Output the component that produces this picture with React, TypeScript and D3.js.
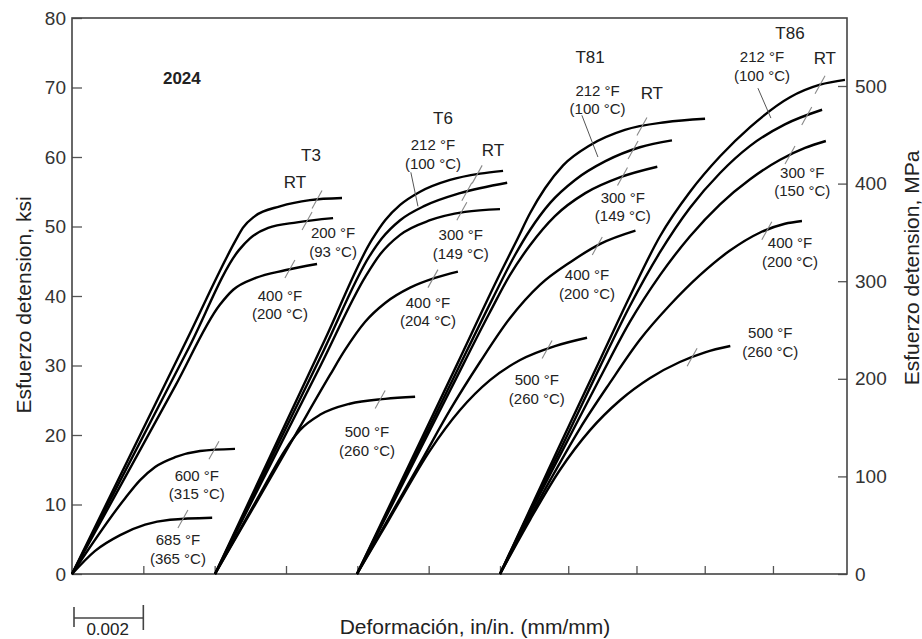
import React, { useEffect, useRef } from 'react';
import * as d3 from 'd3';

// strain is in units of 0.001 in/in, stress in ksi
const strainTicks = [0, 2, 4, 6, 8, 10, 12, 14, 16, 18, 20];
const ksiTicks = [0, 10, 20, 30, 40, 50, 60, 70, 80];
const mpaTicks = [0, 100, 200, 300, 400, 500];

// 2024-T3
const t3RT = [[0, 0], [3.22, 33.7], [4.60, 48.1], [4.79, 49.8], [5.13, 51.5], [5.83, 52.9], [6.67, 53.8], [7.57, 54.1]];
const t3F200 = [[0, 0], [3.28, 32.6], [4.68, 46.6], [4.99, 48.3], [5.50, 49.8], [6.31, 50.6], [7.32, 51.2]];
const t3F400 = [[0, 0], [2.90, 27.1], [4.14, 38.7], [4.52, 40.9], [5.15, 42.6], [5.97, 43.7], [6.87, 44.6]];
const t3F600 = [[0, 0], [1.49, 10.9], [1.91, 13.5], [2.33, 15.4], [2.89, 16.8], [3.59, 17.7], [4.57, 18.0]];
const t3F685 = [[0, 0], [0.64, 3.3], [1.35, 5.6], [2.05, 7.1], [2.75, 7.8], [3.93, 8.1]];

// 2024-T6
const t6RT = [[4.01, 0], [7.09, 33.7], [8.41, 48.1], [8.78, 50.9], [9.20, 53.1], [9.76, 55.0], [10.60, 56.7], [11.44, 57.6], [12.09, 58.0]];
const t6F212 = [[4.01, 0], [7.05, 32.1], [8.35, 45.8], [8.69, 48.3], [9.20, 50.9], [9.90, 53.0], [10.88, 54.8], [12.21, 56.3]];
const t6F300 = [[4.01, 0], [6.97, 30.0], [8.24, 42.9], [8.64, 46.0], [9.20, 48.8], [10.04, 50.9], [11.02, 52.1], [12.0, 52.5]];
const t6F400 = [[4.01, 0], [6.26, 20.0], [7.23, 28.6], [7.65, 32.2], [8.22, 36.3], [8.78, 39.0], [9.48, 41.2], [10.18, 42.6], [10.82, 43.5]];
const t6F500 = [[4.01, 0], [5.38, 12.5], [5.97, 17.8], [6.39, 20.7], [6.95, 22.9], [7.79, 24.5], [8.78, 25.2], [9.62, 25.5]];

// 2024-T81
const t81RT = [[7.99, 0], [10.80, 30.2], [12.0, 43.2], [12.50, 48.1], [12.88, 51.9], [13.32, 55.5], [13.85, 58.8], [14.64, 61.7], [15.66, 63.9], [16.84, 65.0], [18.01, 65.5]];
const t81F212 = [[7.99, 0], [10.66, 27.8], [11.80, 39.7], [12.44, 45.9], [12.88, 49.5], [13.47, 53.4], [14.20, 56.7], [15.09, 59.4], [16.10, 61.4], [17.04, 62.4]];
const t81F300 = [[7.99, 0], [10.60, 26.4], [11.72, 37.7], [12.29, 43.0], [12.88, 47.3], [13.61, 51.5], [14.50, 54.8], [15.53, 57.1], [16.61, 58.6]];
const t81F400 = [[7.99, 0], [9.82, 16.5], [10.60, 23.6], [11.44, 30.5], [12.29, 36.8], [13.17, 41.6], [14.07, 44.9], [14.94, 47.5], [15.97, 49.4]];
const t81F500 = [[7.99, 0], [8.84, 7.4], [9.20, 10.6], [10.04, 17.8], [10.88, 23.6], [11.72, 27.9], [12.59, 30.8], [13.61, 32.8], [14.55, 34.0]];

// 2024-T86
const t86RT = [[12.0, 0], [13.23, 13.0], [13.76, 18.6], [14.93, 30.8], [15.81, 40.0], [16.69, 48.6], [17.57, 55.0], [18.45, 60.1], [19.33, 64.3], [20.50, 68.6], [21.38, 70.4], [22.11, 71.1]];
const t86F212 = [[12.0, 0], [13.22, 12.5], [13.76, 17.8], [14.93, 29.8], [15.81, 38.6], [16.69, 46.3], [17.57, 52.7], [18.45, 57.7], [19.33, 61.6], [20.35, 64.7], [21.44, 66.8]];
const t86F300 = [[12.0, 0], [13.22, 12.0], [13.76, 17.1], [14.93, 28.2], [15.81, 36.3], [16.69, 43.0], [17.57, 48.6], [18.45, 53.2], [19.33, 56.8], [20.21, 59.6], [20.94, 61.3], [21.55, 62.3]];
const t86F400 = [[12.0, 0], [13.47, 13.5], [14.35, 21.0], [15.22, 27.5], [16.10, 33.7], [16.98, 38.7], [17.86, 43.0], [18.73, 46.5], [19.61, 49.1], [20.35, 50.4], [20.85, 50.8]];
const t86F500 = [[12.0, 0], [12.88, 7.8], [13.76, 15.0], [14.64, 20.7], [15.52, 25.0], [16.40, 28.2], [17.27, 30.5], [18.01, 31.9], [18.75, 32.8]];

// curve + the little break mark drawn across it
const curves = [
  { pts: t3RT, mark: [6.87, 53.9] },
  { pts: t3F200, mark: [6.59, 50.8] },
  { pts: t3F400, mark: [6.11, 43.9] },
  { pts: t3F600, mark: [3.98, 17.8] },
  { pts: t3F685, mark: [3.11, 7.9] },
  { pts: t6RT, mark: [11.36, 57.5] },
  { pts: t6F212, mark: [11.07, 55.0] },
  { pts: t6F300, mark: [10.93, 52.2] },
  { pts: t6F400, mark: [10.12, 42.5] },
  { pts: t6F500, mark: [8.64, 25.1] },
  { pts: t81RT, mark: [16.16, 64.4] },
  { pts: t81F212, mark: [15.90, 61.0] },
  { pts: t81F300, mark: [15.59, 57.2] },
  { pts: t81F400, mark: [14.85, 47.2] },
  { pts: t81F500, mark: [13.38, 32.3] },
  { pts: t86RT, mark: [21.38, 70.4] },
  { pts: t86F212, mark: [20.99, 65.9] },
  { pts: t86F300, mark: [20.50, 60.3] },
  { pts: t86F400, mark: [19.82, 49.4] },
  { pts: t86F500, mark: [17.63, 31.2] },
];

const temperLabels = [['T3', 6.70, 60.3], ['T6', 10.40, 65.6], ['T81', 14.64, 74.4], ['T86', 20.50, 77.8]];
const rtLabels = [[6.25, 56.4], [11.80, 61.0], [16.45, 69.2], [21.52, 74.2]];
const tempLabels = [
  ['200 °F', '(93 °C)', 7.32, 49.1],
  ['400 °F', '(200 °C)', 5.83, 40.1],
  ['600 °F', '(315 °C)', 3.50, 14.2],
  ['685 °F', '(365 °C)', 2.97, 4.9],
  ['212 °F', '(100 °C)', 10.12, 61.7],
  ['300 °F', '(149 °C)', 10.90, 48.8],
  ['400 °F', '(204 °C)', 9.98, 39.1],
  ['500 °F', '(260 °C)', 8.27, 20.4],
  ['212 °F', '(100 °C)', 14.86, 69.6],
  ['300 °F', '(149 °C)', 15.60, 54.2],
  ['400 °F', '(200 °C)', 14.55, 43.0],
  ['500 °F', '(260 °C)', 13.08, 27.9],
  ['212 °F', '(100 °C)', 19.68, 74.4],
  ['300 °F', '(150 °C)', 20.86, 57.8],
  ['400 °F', '(200 °C)', 20.50, 47.6],
  ['500 °F', '(260 °C)', 19.92, 34.7],
];
const leaders = [[9.50, 57.8, 9.70, 52.9], [14.40, 66.0, 14.87, 60.0], [19.56, 69.9, 19.94, 65.6]];

const FONT = "'Liberation Sans', Arial, Helvetica, sans-serif";

const App = () => {
  const svgRef = useRef<SVGSVGElement>(null);

  useEffect(() => {
    if (!svgRef.current) return;
    const svg = d3.select(svgRef.current);
    svg.selectAll('*').remove();

    const left = 72, right = 847, top = 18, bottom = 574;

    // printed strain axis is a bit tighter right of 0.012
    const x = d3.scaleLinear().domain([0, 12, 22.17]).range([left, 500, right]);
    const y = d3.scaleLinear().domain([0, 80]).range([bottom, top]);
    const yMpa = d3.scaleLinear().domain([0, 500]).range([bottom, 86]);

    // bottom ticks (inward, no labels)
    const gx = svg.append('g')
      .attr('transform', `translate(0, ${bottom})`)
      .call(d3.axisBottom(x).tickValues(strainTicks.slice(1)).tickSize(-8).tickFormat(() => ''));
    gx.select('.domain').remove();
    gx.selectAll('line').attr('stroke', '#555').attr('stroke-width', 1.3);

    // left axis ksi
    const gy = svg.append('g')
      .attr('transform', `translate(${left}, 0)`)
      .call(d3.axisLeft(y).tickValues(ksiTicks).tickSize(-10).tickPadding(6));
    gy.select('.domain').remove();
    gy.selectAll('line').attr('stroke', '#555').attr('stroke-width', 1.3);
    gy.selectAll('text').style('font-family', FONT).style('font-size', '19px').attr('fill', '#333');

    // right axis MPa
    const gr = svg.append('g')
      .attr('transform', `translate(${right}, 0)`)
      .call(d3.axisRight(yMpa).tickValues(mpaTicks).tickSize(-9).tickPadding(8));
    gr.select('.domain').remove();
    gr.selectAll('line').attr('stroke', '#555').attr('stroke-width', 1.3);
    gr.selectAll('text').style('font-family', FONT).style('font-size', '19px').attr('fill', '#333');

    // frame
    svg.append('rect')
      .attr('x', left).attr('y', top)
      .attr('width', right - left).attr('height', bottom - top)
      .attr('fill', 'none').attr('stroke', '#444').attr('stroke-width', 1.6);

    // curves
    const line = d3.line<number[]>()
      .x(d => x(d[0]))
      .y(d => y(d[1]))
      .curve(d3.curveMonotoneX);

    curves.forEach(c => {
      svg.append('path')
        .datum(c.pts)
        .attr('fill', 'none')
        .attr('stroke', '#000')
        .attr('stroke-width', 2.4)
        .attr('d', line);
    });

    // break marks
    svg.selectAll('.mark')
      .data(curves)
      .enter()
      .append('line')
      .attr('x1', d => x(d.mark[0]) - 5)
      .attr('y1', d => y(d.mark[1]) + 9)
      .attr('x2', d => x(d.mark[0]) + 5)
      .attr('y2', d => y(d.mark[1]) - 9)
      .attr('stroke', '#888')
      .attr('stroke-width', 1.1);

    // leader lines
    leaders.forEach(l => {
      svg.append('line')
        .attr('x1', x(l[0])).attr('y1', y(l[1]))
        .attr('x2', x(l[2])).attr('y2', y(l[3]))
        .attr('stroke', '#555').attr('stroke-width', 1);
    });

    const addText = (t: string, px: number, py: number, size: number, weight = 'normal') =>
      svg.append('text')
        .attr('x', px).attr('y', py)
        .attr('dy', '0.35em')
        .attr('text-anchor', 'middle')
        .style('font-family', FONT)
        .style('font-size', `${size}px`)
        .style('font-weight', weight)
        .attr('fill', '#222')
        .text(t);

    addText('2024', x(3.08), y(71.4), 17, 'bold');
    temperLabels.forEach(l => addText(l[0] as string, x(l[1] as number), y(l[2] as number), 17));
    rtLabels.forEach(l => addText('RT', x(l[0]), y(l[1]), 17));
    tempLabels.forEach(l => {
      const px = x(l[2] as number), py = y(l[3] as number);
      addText(l[0] as string, px, py, 15);
      addText(l[1] as string, px, py + 18.5, 15);
    });

    // axis titles
    svg.append('text')
      .attr('transform', `translate(31, 305) rotate(-90)`)
      .attr('text-anchor', 'middle')
      .style('font-family', FONT).style('font-size', '21px')
      .attr('fill', '#222')
      .text('Esfuerzo detension, ksi');

    svg.append('text')
      .attr('transform', `translate(919, 268) rotate(-90)`)
      .attr('text-anchor', 'middle')
      .style('font-family', FONT).style('font-size', '21px')
      .attr('fill', '#222')
      .text('Esfuerzo detension, MPa');

    svg.append('text')
      .attr('x', 475).attr('y', 634)
      .attr('text-anchor', 'middle')
      .style('font-family', FONT).style('font-size', '21px')
      .attr('fill', '#222')
      .text('Deformación, in/in. (mm/mm)');

    // 0.002 scale bar
    const sb = svg.append('g').attr('stroke', '#444').attr('stroke-width', 1.6);
    sb.append('line').attr('x1', x(0) + 2).attr('x2', x(2)).attr('y1', 618).attr('y2', 618);
    sb.append('line').attr('x1', x(0) + 2).attr('x2', x(0) + 2).attr('y1', 607).attr('y2', 627);
    sb.append('line').attr('x1', x(2)).attr('x2', x(2)).attr('y1', 605).attr('y2', 630);
    svg.append('text')
      .attr('x', (x(0) + x(2)) / 2).attr('y', 635)
      .attr('text-anchor', 'middle')
      .style('font-family', FONT).style('font-size', '17px')
      .attr('fill', '#222')
      .text('0.002');
  }, []);

  return (
    <svg
      ref={svgRef}
      width={922}
      height={639}
      style={{ position: 'absolute', left: 0, top: 0, background: '#fff' }}
    />
  );
};

export default App;
